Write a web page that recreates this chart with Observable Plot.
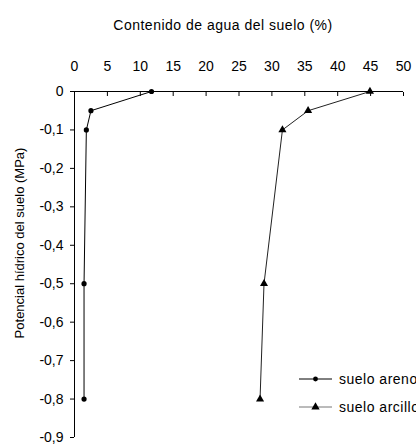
<!DOCTYPE html>
<html><head><meta charset="utf-8">
<script src="https://cdn.jsdelivr.net/npm/d3@7"></script>
<script src="https://cdn.jsdelivr.net/npm/@observablehq/plot@0.6"></script>
<style>
body{margin:0;background:#fff;font-family:"Liberation Sans",Arial,sans-serif;}
#wrap{position:relative;width:416px;height:444px;overflow:hidden;background:#fff;}
#title{position:absolute;left:223px;top:17px;transform:translateX(-50%);font-size:14px;letter-spacing:0.5px;line-height:16px;white-space:nowrap;color:#000;}
</style></head><body><div id="wrap"><div id="title">Contenido de agua del suelo (%)</div></div>
<script>
const potentialLevels = [0, -0.05, -0.1, -0.5, -0.8];
const sandyWater = [11.7, 2.5, 1.8, 1.45, 1.45];
const clayWater = [44.9, 35.5, 31.6, 28.8, 28.2];
const seriesNames = ["suelo arenoso", "suelo arcilloso"];
const xTicks = [0, 5, 10, 15, 20, 25, 30, 35, 40, 45, 50];
const yTicks = [0, -0.1, -0.2, -0.3, -0.4, -0.5, -0.6, -0.7, -0.8, -0.9];
const yLabel = "Potencial hídrico del suelo (MPa)";

const sandy = potentialLevels.map((p, i) => ({x: sandyWater[i], y: p}));
const clay = potentialLevels.map((p, i) => ({x: clayWater[i], y: p}));
const fmt = d => d === 0 ? "0" : String(+d.toFixed(2)).replace(".", ",");

const chart = Plot.plot({
  width: 416, height: 444,
  marginLeft: 74, marginRight: 13, marginTop: 91, marginBottom: 7,
  style: {fontFamily: "'Liberation Sans', Arial, sans-serif", fontSize: "14px", color: "#000", background: "#fff"},
  x: {domain: [0, 50]},
  y: {domain: [-0.9, 0]},
  marks: [
    Plot.axisX({anchor: "top", ticks: xTicks, tickSize: 0, tickPadding: 21, tickFormat: fmt, label: null, style: {letterSpacing: "0.6px"}}),
    Plot.axisX({anchor: "top", ticks: xTicks, tickSize: 4, dy: 4, tickFormat: () => "", label: null}),
    Plot.axisY({anchor: "left", ticks: yTicks, tickSize: 4, tickPadding: 7, tickFormat: fmt, label: null}),
    Plot.ruleY([0], {stroke: "#000"}),
    Plot.ruleX([0], {stroke: "#000"}),
    Plot.line(sandy, {x: "x", y: "y", stroke: "#000", strokeWidth: 1}),
    Plot.line(clay, {x: "x", y: "y", stroke: "#222", strokeWidth: 1}),
    Plot.dot(sandy, {x: "x", y: "y", r: 2.6, fill: "#000", stroke: "none"}),
    Plot.dot(clay, {x: "x", y: "y", r: 3, symbol: "triangle", fill: "#000", stroke: "none"})
  ]
});
document.getElementById("wrap").appendChild(chart);

const svg = d3.select(chart);
svg.append("text")
  .attr("transform", "translate(19,243) rotate(-90)")
  .attr("text-anchor", "middle").attr("dominant-baseline", "central")
  .attr("font-size", 13).attr("fill", "#000")
  .text(yLabel);

const leg = svg.append("g").attr("font-size", 14).attr("text-anchor", "start").attr("letter-spacing", "0.5px");
const rows = [{name: seriesNames[0], y: 379, stroke: "#000", shape: "circle"},
              {name: seriesNames[1], y: 407, stroke: "#777", shape: "triangle"}];
rows.forEach(r => {
  leg.append("line").attr("x1", 299).attr("x2", 332).attr("y1", r.y).attr("y2", r.y).attr("stroke", r.stroke);
  if (r.shape === "circle") leg.append("circle").attr("cx", 315.5).attr("cy", r.y).attr("r", 2.4).attr("fill", "#000");
  else leg.append("path").attr("transform", `translate(315.5,${r.y})`).attr("d", d3.symbol(d3.symbolTriangle, 30)()).attr("fill", "#000");
  leg.append("text").attr("x", 339).attr("y", r.y).attr("dominant-baseline", "central").attr("fill", "#000").text(r.name);
});
</script></body></html>
